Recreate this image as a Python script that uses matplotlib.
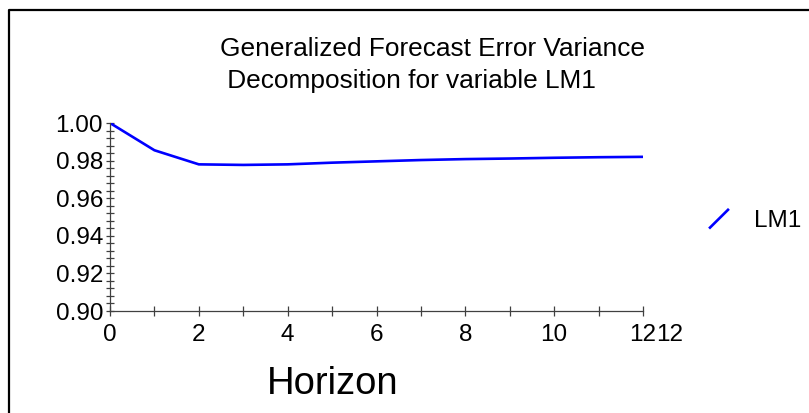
import matplotlib
matplotlib.use("Agg")
import matplotlib.pyplot as plt
from matplotlib.lines import Line2D
from matplotlib.legend_handler import HandlerLine2D
from matplotlib.ticker import MultipleLocator

horizon = [0, 1, 2, 3, 4, 5, 6, 7, 8, 9, 10, 11, 12]
lm1 = [1.000, 0.9855, 0.978, 0.9777, 0.978, 0.9789, 0.9796,
       0.9803, 0.9808, 0.9811, 0.9815, 0.9818, 0.982]

title = "Generalized Forecast Error Variance\n Decomposition for variable LM1"
series_name = "LM1"

plt.rcParams['font.family'] = ['Liberation Sans', 'DejaVu Sans']

fig = plt.figure(figsize=(8.09, 4.13), dpi=100)
ax = fig.add_axes([110 / 809, 1 - 311 / 413, 533 / 809, 188 / 413])

ax.plot(horizon, lm1, color="#0000ff", lw=1.9, label=series_name)

ax.set_xlim(0, 12)
ax.set_ylim(0.90, 1.00)
ax.xaxis.set_major_locator(MultipleLocator(2))
ax.xaxis.set_minor_locator(MultipleLocator(1))
ax.yaxis.set_major_locator(MultipleLocator(0.02))
ax.yaxis.set_minor_locator(MultipleLocator(0.004))
ax.yaxis.set_major_formatter(plt.FormatStrFormatter("%.2f"))

for s in ["top", "right"]:
    ax.spines[s].set_visible(False)
for s in ["left", "bottom"]:
    ax.spines[s].set_color("#404040")
    ax.spines[s].set_linewidth(0.9)

ax.tick_params(axis="both", which="both", direction="inout", color="#404040",
               width=0.9, labelsize=17.5)
ax.tick_params(axis="y", which="both", length=6, pad=2)
ax.tick_params(axis="x", which="both", length=7, pad=6)

# the stray second "12" next to the last tick label
ax.text(12.6, -0.07, "12", transform=ax.get_xaxis_transform(),
        ha="center", va="top", fontsize=17.5)

fig.text(220 / 809, 1 - 65 / 413, title, ha="left", va="center",
         fontsize=18.9, linespacing=1.45)

ax.set_xlabel("Horizon", fontsize=27.5)
ax.xaxis.set_label_coords(223 / 533, -0.29)


class DiagHandler(HandlerLine2D):
    def create_artists(self, legend, orig_handle, xdescent, ydescent,
                       width, height, fontsize, trans):
        ln = Line2D([-xdescent, -xdescent + width],
                    [-ydescent, -ydescent + height])
        self.update_prop(ln, orig_handle, legend)
        ln.set_transform(trans)
        return [ln]


leg = fig.legend(handler_map={Line2D: DiagHandler()}, loc="center left",
                 bbox_to_anchor=(710 / 809, 1 - 221 / 413), frameon=False,
                 fontsize=17.5, handlelength=0.74, handleheight=0.75,
                 handletextpad=1.05, borderpad=0, borderaxespad=0)

# outer frame (left and top edges only)
fig.add_artist(Line2D([9 / 809, 9 / 809, 1], [0, 1 - 10 / 413, 1 - 10 / 413],
                      transform=fig.transFigure, color="black", lw=1.6))

fig.savefig("out.png", dpi=100)
